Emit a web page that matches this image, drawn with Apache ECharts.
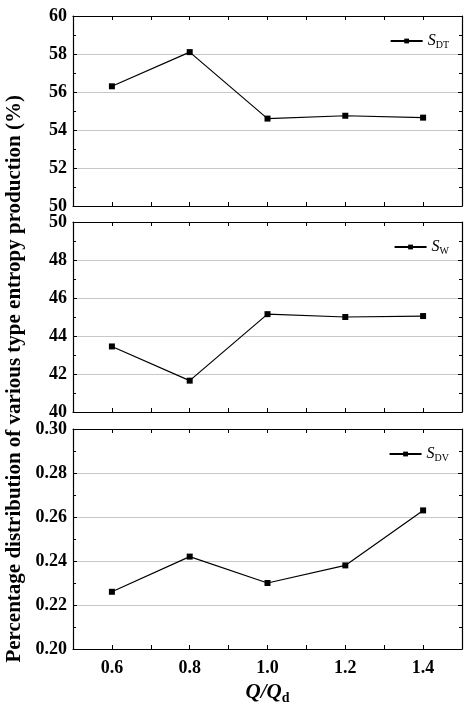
<!DOCTYPE html><html><head><meta charset="utf-8"><script src="https://cdn.jsdelivr.net/npm/echarts@6/dist/echarts.min.js"></script>
<style>html,body{margin:0;background:#fff}#c{width:474px;height:706px}</style></head><body><div id="c"></div><script>
const xVals=[0.6,0.8,1.0,1.2,1.4];
const sDT=[56.3,58.1,54.6,54.75,54.65];
const sW=[43.45,41.65,45.15,45.0,45.05];
const sDV=[0.226,0.242,0.230,0.238,0.263];
const font='Liberation Serif';
const grids=[{top:16,height:190},{top:222,height:190},{top:429,height:224}];
const yCfg=[{min:50,max:60,interval:2,d:0},{min:40,max:50,interval:2,d:0},{min:0.2,max:0.3,interval:0.02,d:2}];
const names=[['S','DT'],['S','W'],['S','DV']];
const data=[sDT,sW,sDV];
const opt={animation:false,textStyle:{fontFamily:font},grid:grids.map(g=>({left:73,right:12,top:g.top,height:g.height})),
xAxis:[],yAxis:[],series:[],legend:[],graphic:[{type:'text',rotation:Math.PI/2,left:4,top:335-240,style:{text:'Percentage distribution of various type entropy production (%)',font:'bold 21px "Liberation Serif"',fill:'#000'},}]};
const ax={lineStyle:{color:'#000',width:1.2}};
for(let i=0;i<3;i++){
 const last=i===2;
 opt.xAxis.push({type:'value',gridIndex:i,min:0.5,max:1.5,interval:0.1,axisLine:ax,axisTick:{inside:true,length:4,lineStyle:{color:'#000'}},splitLine:{show:false},
  axisLabel:{show:last,fontFamily:font,fontWeight:'bold',fontSize:18,color:'#000',margin:10,formatter:v=>{const r=Math.round(v*10);return (r%2===0&&r>=6&&r<=14)?v.toFixed(1):'';}},
  name:last?'{i|Q/Q}{s|d}':'',nameLocation:'middle',nameGap:32,nameTextStyle:{rich:{i:{fontFamily:font,fontStyle:'italic',fontWeight:'bold',fontSize:21,color:'#000'},s:{fontFamily:font,fontWeight:'bold',fontSize:14,color:'#000',padding:[10,0,0,0]}}}});
 opt.xAxis.push({type:'value',gridIndex:i,position:'top',min:0.5,max:1.5,interval:0.1,axisLine:ax,axisTick:{inside:true,length:4,lineStyle:{color:'#000'}},axisLabel:{show:false},splitLine:{show:false}});
 const y=yCfg[i];
 opt.yAxis.push({type:'value',gridIndex:i,min:y.min,max:y.max,interval:y.interval,axisLine:{show:true,...ax},axisTick:{inside:true,length:4,lineStyle:{color:'#000'}},minorTick:{show:true,splitNumber:2,length:3,lineStyle:{color:'#000'}},
  splitLine:{show:true,lineStyle:{color:'#c8c8c8'}},axisLabel:{fontFamily:font,fontWeight:'bold',fontSize:18,color:'#000',margin:6,formatter:v=>v.toFixed(y.d)}});
 opt.yAxis.push({type:'value',gridIndex:i,position:'right',min:y.min,max:y.max,interval:y.interval,axisLine:{show:true,...ax},axisTick:{inside:true,length:4,lineStyle:{color:'#000'}},minorTick:{show:true,splitNumber:2,length:3,lineStyle:{color:'#000'}},axisLabel:{show:false},splitLine:{show:false}});
 const nm=names[i][0]+'_'+names[i][1];
 opt.series.push({type:'line',name:nm,xAxisIndex:2*i,yAxisIndex:2*i,data:xVals.map((x,k)=>[x,data[i][k]]),symbol:'rect',symbolSize:6,itemStyle:{color:'#000'},lineStyle:{color:'#000',width:1.2}});
 opt.legend.push({data:[nm],right:20,top:grids[i].top+12,itemWidth:32,itemHeight:6,itemGap:4,
  formatter:()=>'{a|'+names[i][0]+'}{b|'+names[i][1]+'}',textStyle:{rich:{a:{fontFamily:font,fontStyle:'italic',fontSize:16,color:'#000'},b:{fontFamily:font,fontSize:10,color:'#000',padding:[8,0,0,0]}}}});
}
echarts.init(document.getElementById('c')).setOption(opt);
</script></body></html>
